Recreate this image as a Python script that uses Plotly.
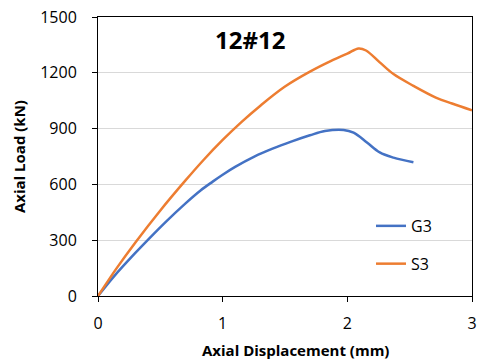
import plotly.graph_objects as go

# G3 series (blue)
g3_disp = [0, 0.13, 0.29, 0.41, 0.55, 0.70, 0.82, 0.92, 1.0, 1.1, 1.25, 1.4, 1.55, 1.7, 1.82, 1.97, 2.05, 2.16, 2.26, 2.37, 2.53]
g3_load = [0, 107, 225, 309, 403, 497, 566, 615, 652, 694, 748, 792, 830, 864, 887, 893, 878, 824, 772, 744, 719]

# S3 series (orange)
s3_disp = [0, 0.15, 0.3, 0.5, 0.7, 0.85, 1.0, 1.15, 1.3, 1.5, 1.7, 1.87, 2.0, 2.09, 2.15, 2.26, 2.37, 2.53, 2.71, 2.84, 3.0]
s3_load = [0, 150, 288, 460, 620, 734, 839, 935, 1022, 1126, 1206, 1264, 1303, 1331, 1320, 1256, 1193, 1130, 1067, 1035, 998]

x_ticks = [0, 1, 2, 3]
y_ticks = [0, 300, 600, 900, 1200, 1500]

FONT = "'Open Sans', Lato, sans-serif"

fig = go.Figure()
fig.add_trace(go.Scatter(x=g3_disp, y=g3_load, name="G3", mode="lines",
                         line=dict(color="#4472C4", width=2.5, shape="spline", smoothing=1),
                         legendgroup="g3"))
fig.add_trace(go.Scatter(x=s3_disp, y=s3_load, name="S3", mode="lines",
                         line=dict(color="#ED7D31", width=2.5, shape="spline", smoothing=1),
                         legendgroup="s3"))

fig.update_layout(
    width=482, height=360,
    margin=dict(l=98, r=5, t=17, b=64),
    paper_bgcolor="white", plot_bgcolor="white",
    font=dict(family=FONT, size=16, color="black"),
    showlegend=True,
    legend=dict(x=0.73, y=0.312, xanchor="left", yanchor="top",
                bgcolor="rgba(0,0,0,0)", font=dict(size=16),
                tracegroupgap=14, traceorder="grouped"),
    annotations=[
        dict(text="<b>12#12</b>", x=0.406, y=0.918, xref="paper", yref="paper",
             showarrow=False, font=dict(size=24, family=FONT), xanchor="center", yanchor="middle"),
        dict(text="<b>Axial Displacement (mm)</b>", x=298, y=350, xref="paper", yref="paper",
             showarrow=False, font=dict(size=15, family=FONT), xanchor="center", yanchor="middle"),
        dict(text="<b>Axial Load (kN)</b>", x=18, y=157, xref="paper", yref="paper",
             showarrow=False, font=dict(size=15, family=FONT), xanchor="center", yanchor="middle",
             textangle=-90),
    ],
)
# convert pixel-positioned annotations to paper coordinates
pl, pr, pt, pb = 98, 477, 17, 296
for a in fig.layout.annotations[1:]:
    a.x = (a.x - pl) / (pr - pl)
    a.y = (pb - a.y) / (pb - pt)

fig.update_xaxes(range=[0, 3], tickvals=x_ticks, showgrid=False, zeroline=False,
                 showline=True, linecolor="black", linewidth=1, mirror=True,
                 ticks="outside", ticklen=5, tickcolor="black", ticklabelstandoff=8)
fig.update_yaxes(range=[0, 1500], tickvals=y_ticks, showgrid=True, gridcolor="#D9D9D9", zeroline=False,
                 showline=True, linecolor="black", linewidth=1, mirror=True,
                 ticks="outside", ticklen=5, tickcolor="black", ticklabelstandoff=12)

fig.write_html("out.html")
